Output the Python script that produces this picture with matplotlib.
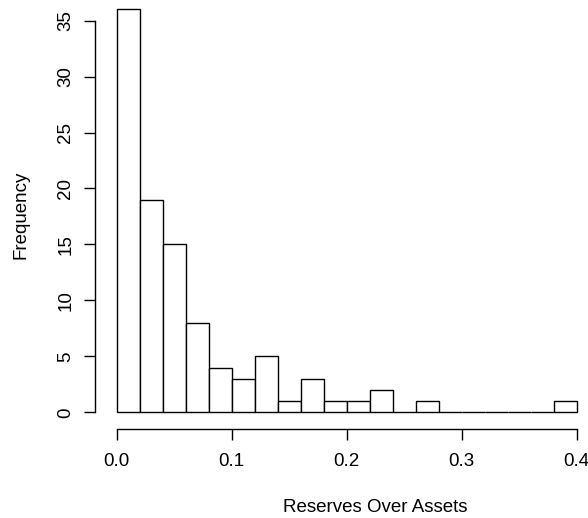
import numpy as np
import matplotlib
matplotlib.use("Agg")
import matplotlib.pyplot as plt

plt.rcParams["font.family"] = ["Liberation Sans", "DejaVu Sans"]

# histogram of reserves / assets, bin width 0.02
bin_edges = np.round(np.arange(0, 0.40001, 0.02), 2)
counts = [36, 19, 15, 8, 4, 3, 5, 1, 3, 1, 1, 2, 0, 1, 0, 0, 0, 0, 0, 1]
x_ticks = [0.0, 0.1, 0.2, 0.3, 0.4]
x_tick_labels = ["0.0", "0.1", "0.2", "0.3", "0.4"]
y_ticks = [0, 5, 10, 15, 20, 25, 30, 35]

W, H = 588, 518
fig = plt.figure(figsize=(W / 100, H / 100), dpi=100)
ax = fig.add_axes([95 / W, (H - 429) / H, (588 - 95) / W, 429 / H])

ax.bar(bin_edges[:-1], counts, width=0.02, align="edge",
       facecolor="white", edgecolor="black", linewidth=1.0)

ax.set_xlim(-0.0189, 0.4098)
ax.set_ylim(-1.49, 36.84)

for s in ["top", "right"]:
    ax.spines[s].set_visible(False)
ax.spines["left"].set_bounds(0, 35)
ax.spines["bottom"].set_bounds(0, 0.4)
ax.spines["left"].set_linewidth(1.0)
ax.spines["bottom"].set_linewidth(1.0)

ax.set_xticks(x_ticks)
ax.set_xticklabels(x_tick_labels)
ax.set_yticks(y_ticks)
ax.set_yticklabels([str(v) for v in y_ticks], rotation=90, va="center")
ax.tick_params(length=8, width=1.0, labelsize=13.5)
ax.tick_params(axis="x", pad=9)
ax.tick_params(axis="y", pad=7)

# the original plot region runs past the right edge, so the label sits right of centre
ax.set_xlabel("Reserves Over Assets", fontsize=13.5)
ax.xaxis.set_label_coords(0.568, -0.163)
ax.set_ylabel("Frequency", fontsize=13.5, labelpad=20)

fig.savefig("out.png", dpi=100)
